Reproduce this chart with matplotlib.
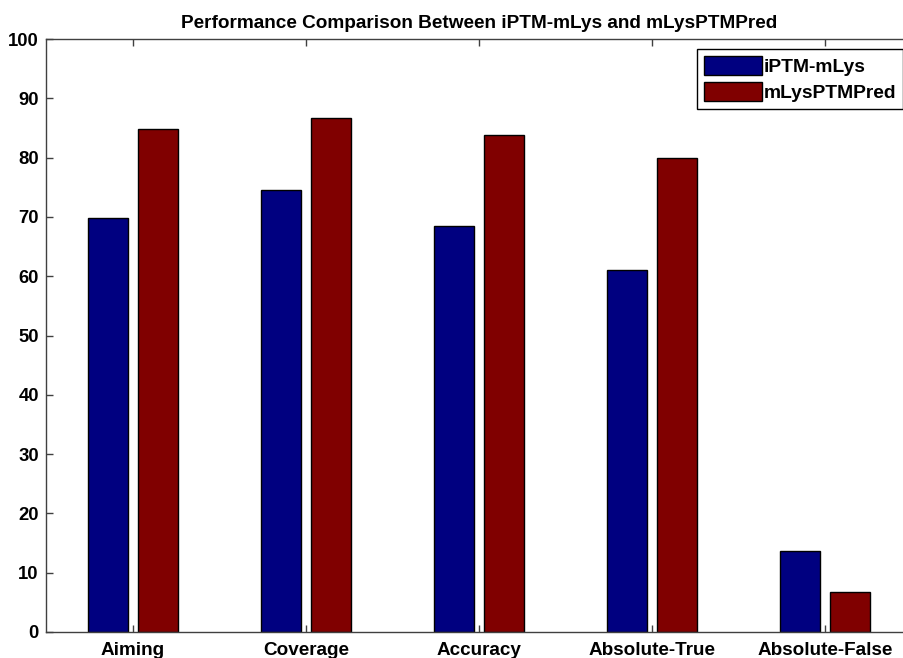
import numpy as np
import matplotlib
matplotlib.use("Agg")
from matplotlib import pyplot as plt

# ------------------ дані ------------------
categories = ["Aiming", "Coverage", "Accuracy", "Absolute-True", "Absolute-False"]
iptm_mlys = [69.8, 74.6, 68.4, 61.0, 13.7]
mlysptmpred = [84.9, 86.6, 83.8, 79.9, 6.7]
series_names = ["iPTM-mLys", "mLysPTMPred"]
title = "Performance Comparison Between iPTM-mLys and mLysPTMPred"

plt.rcParams['font.family'] = ['Liberation Sans', 'DejaVu Sans']

fig = plt.figure(figsize=(9.04, 6.58), dpi=100)
# права межа осей виходить за кадр, як в оригіналі
ax = fig.add_axes([46.5 / 904, 26 / 658, 865 / 904, 593 / 658])

x = np.arange(1, len(categories) + 1)
w = 0.23
off = 0.145
ax.bar(x - off, iptm_mlys, w, color='#000080', edgecolor='black', linewidth=1.0,
       label=series_names[0])
ax.bar(x + off, mlysptmpred, w, color='#800000', edgecolor='black', linewidth=1.0,
       label=series_names[1])

ax.set_xlim(0.5, 5.5)
ax.set_ylim(0, 100)
ax.set_yticks(np.arange(0, 101, 10))
ax.set_xticks(x)
ax.set_xticklabels(categories, fontsize=13.6, fontweight='bold')
for lab in ax.get_yticklabels():
    lab.set_fontsize(13.3)
    lab.set_fontweight('bold')

ax.tick_params(direction='in', length=5, width=1.0, color='#404040',
               top=True, right=True)
ax.tick_params(axis='x', pad=7)
ax.tick_params(axis='y', pad=5.5)
for s in ax.spines.values():
    s.set_color('#404040')
    s.set_linewidth(1.0)

ax.set_title(title, fontsize=13.7, fontweight='bold', pad=8)

leg = ax.legend(loc='upper right', bbox_to_anchor=(0.990, 0.983), borderaxespad=0,
                fancybox=False, framealpha=1, edgecolor='black',
                prop={'size': 13.9, 'weight': 'bold'},
                handlelength=3.0, handleheight=1.15, handletextpad=0.1,
                labelspacing=0.3, borderpad=0.35)
leg.get_frame().set_linewidth(1.0)

fig.savefig("out.png", dpi=100)
